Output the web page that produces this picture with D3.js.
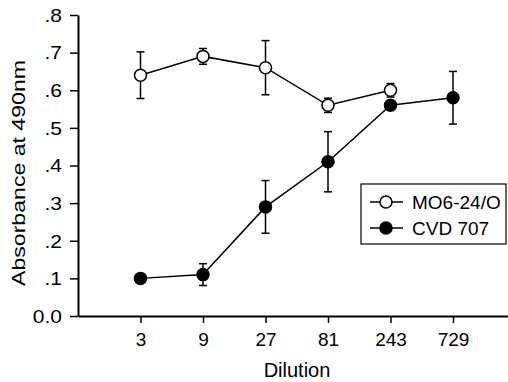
<!DOCTYPE html>
<html>
<head>
<meta charset="utf-8">
<script src="https://cdn.jsdelivr.net/npm/d3@7"></script>
<style>
  body { margin: 0; background: #fff; }
  text { font-family: "Liberation Sans", Arial, sans-serif; fill: #000; }
</style>
</head>
<body>
<script>
var dilutions = [3, 9, 27, 81, 243, 729];
var yTicks = [0, 0.1, 0.2, 0.3, 0.4, 0.5, 0.6, 0.7, 0.8];
var yTickLabels = ["0.0", ".1", ".2", ".3", ".4", ".5", ".6", ".7", ".8"];

// MO6-24/O (open circles)
var moDil = [3, 9, 27, 81, 243];
var moMean = [0.64, 0.69, 0.66, 0.56, 0.60];
var moErr = [0.062, 0.021, 0.072, 0.019, 0.018];

// CVD 707 (filled circles)
var cvdDil = [3, 9, 27, 81, 243, 729];
var cvdMean = [0.10, 0.11, 0.29, 0.41, 0.56, 0.58];
var cvdErr = [0, 0.029, 0.07, 0.08, 0, 0.07];

var width = 508, height = 382;
var svg = d3.select("body").append("svg")
    .attr("width", width)
    .attr("height", height);

var x = d3.scaleLog().base(3)
    .domain([1, 729 * Math.pow(3, 0.88)])
    .range([78, 508]);
var y = d3.scaleLinear()
    .domain([0, 0.8])
    .range([316, 15]);

var xAxis = d3.axisBottom(x)
    .tickValues(dilutions)
    .tickFormat(d3.format("d"))
    .tickSize(7)
    .tickSizeOuter(0);
var yAxis = d3.axisLeft(y)
    .tickValues(yTicks)
    .tickFormat(function(d, i) { return yTickLabels[i]; })
    .tickSize(8)
    .tickSizeOuter(0);

var gx = svg.append("g")
    .attr("transform", "translate(0,316)")
    .call(xAxis);
var gy = svg.append("g")
    .attr("transform", "translate(78,0)")
    .call(yAxis);

[gx, gy].forEach(function(g) {
  g.select(".domain").attr("stroke", "#000").attr("stroke-width", 2);
  g.selectAll(".tick line").attr("stroke", "#000").attr("stroke-width", 1.5);
  g.selectAll(".tick text").attr("fill", "#000");
});
gx.selectAll(".tick text").style("font-size", "19px").attr("y", 30).attr("dy", 0);
gy.selectAll(".tick text").style("font-size", "17.5px")
    .attr("x", 0).attr("dy", "0.36em")
    .attr("transform", "translate(-16,0) scale(1.2,1)");

svg.append("text")
    .attr("x", 297).attr("y", 377)
    .attr("text-anchor", "middle")
    .style("font-size", "20px")
    .text("Dilution");
svg.append("text")
    .attr("transform", "translate(25,173) rotate(-90)")
    .attr("text-anchor", "middle")
    .attr("textLength", 226)
    .attr("lengthAdjust", "spacingAndGlyphs")
    .style("font-size", "19px")
    .text("Absorbance at 490nm");

function drawSeries(dil, mean, err, fill) {
  var pts = dil.map(function(d, i) { return {d: d, m: mean[i], e: err[i]}; });
  var g = svg.append("g");
  g.append("path")
    .datum(pts)
    .attr("fill", "none")
    .attr("stroke", "#000")
    .attr("stroke-width", 1.5)
    .attr("d", d3.line().x(function(p) { return x(p.d); }).y(function(p) { return y(p.m); }));
  var eb = g.selectAll(".eb").data(pts.filter(function(p) { return p.e > 0; }))
    .join("g").attr("class", "eb");
  eb.append("line")
    .attr("x1", function(p) { return x(p.d); })
    .attr("x2", function(p) { return x(p.d); })
    .attr("y1", function(p) { return y(p.m - p.e); })
    .attr("y2", function(p) { return y(p.m + p.e); })
    .attr("stroke", "#000").attr("stroke-width", 1.5);
  [-1, 1].forEach(function(s) {
    eb.append("line")
      .attr("x1", function(p) { return x(p.d) - 4; })
      .attr("x2", function(p) { return x(p.d) + 4; })
      .attr("y1", function(p) { return y(p.m + s * p.e); })
      .attr("y2", function(p) { return y(p.m + s * p.e); })
      .attr("stroke", "#000").attr("stroke-width", 1.5);
  });
  g.selectAll("circle").data(pts).join("circle")
    .attr("cx", function(p) { return x(p.d); })
    .attr("cy", function(p) { return y(p.m); })
    .attr("r", 6)
    .attr("fill", fill)
    .attr("stroke", "#000")
    .attr("stroke-width", 1.5);
}

drawSeries(cvdDil, cvdMean, cvdErr, "#000");
drawSeries(moDil, moMean, moErr, "#fff");

// legend
var lg = svg.append("g");
lg.append("rect")
  .attr("x", 361).attr("y", 184)
  .attr("width", 145).attr("height", 60)
  .attr("fill", "#fff").attr("stroke", "#000").attr("stroke-width", 1.2);
var legendItems = [{name: "MO6-24/O", fill: "#fff"}, {name: "CVD 707", fill: "#000"}];
legendItems.forEach(function(it, i) {
  var ly = 202 + i * 26;
  lg.append("line").attr("x1", 370).attr("x2", 403).attr("y1", ly).attr("y2", ly)
    .attr("stroke", "#000").attr("stroke-width", 1.5);
  lg.append("circle").attr("cx", 386).attr("cy", ly).attr("r", 6)
    .attr("fill", it.fill).attr("stroke", "#000").attr("stroke-width", 1.5);
  lg.append("text").attr("x", 412).attr("y", ly + 6.5)
    .style("font-size", "19px").text(it.name);
});
</script>
</body>
</html>
